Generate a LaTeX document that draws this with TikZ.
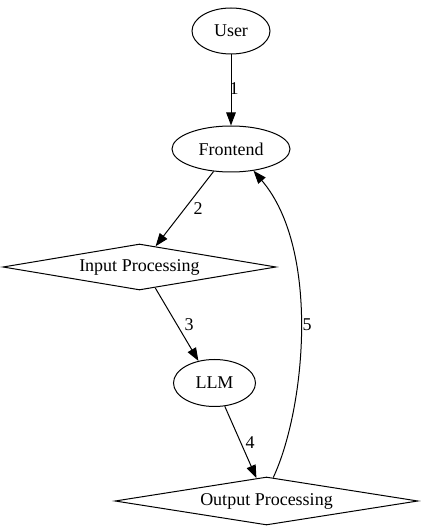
\documentclass[tikz,border=0pt]{standalone}
\usepackage{fontspec}
\setmainfont{Liberation Serif}
\usetikzlibrary{shapes.geometric,arrows.meta}
\begin{document}
\begin{tikzpicture}[x=1pt,y=1pt,
  every node/.style={font=\fontsize{18}{21}\selectfont},
  ell/.style={draw,ellipse,inner sep=0pt,line width=1pt},
  dia/.style={draw,diamond,aspect=8,inner sep=0pt,line width=1pt},
  edge/.style={draw,line width=1pt,-{Triangle[length=13pt,width=9.5pt]}},
  lbl/.style={inner sep=0pt}]
\useasboundingbox (0,0) rectangle (421,531);
\node[ell,minimum width=78pt,minimum height=46pt] (user) at (231,500) {User};
\node[ell,minimum width=118pt,minimum height=46pt] (front) at (231,382) {Frontend};
\node[dia,minimum width=273pt,minimum height=46pt] (inp) at (139.5,264) {Input Processing};
\node[ell,minimum width=82pt,minimum height=47pt] (llm) at (214.5,148) {LLM};
\node[dia,minimum width=303pt,minimum height=48pt] (outp) at (266.5,30) {Output Processing};
\draw[edge] (user) -- (front);
\draw[edge] (front) -- (inp);
\draw[edge] (inp.-53) -- (llm.126);
\draw[edge] (llm) -- (outp);
\draw[edge] (outp.74) .. controls (305,121) and (321,281) .. (front.-44);
\node[lbl] (l1) at (234,442) {1};
\node[lbl] (l2) at (198,322) {2};
\node[lbl] (l3) at (189,206) {3};
\node[lbl] (l4) at (250,88) {4};
\node[lbl] (l5) at (307,206) {5};
\end{tikzpicture}
\end{document}
